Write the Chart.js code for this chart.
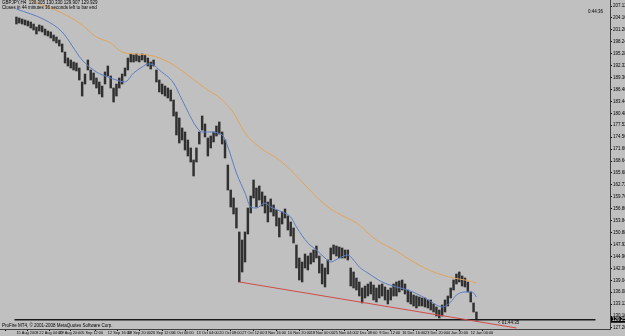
<!DOCTYPE html>
<html>
<head>
<meta charset="utf-8">
<script src="https://cdn.jsdelivr.net/npm/chart.js@4.4.1/dist/chart.umd.min.js"></script>
<style>
  html, body { margin: 0; padding: 0; background: #c0c0c0; }
  #wrap { width: 625px; height: 336px; }
</style>
</head>
<body>
<div id="wrap"><canvas id="chart" width="625" height="336"></canvas></div>
<script>
// GBPJPY H4, one slot per bar group
const barHigh = [
  204.39, 204.14, 203.89, 203.65, 203.40, 203.15, 202.65, 201.91, 202.41, 202.16,
  201.41, 200.92, 200.67, 199.92, 199.43, 198.68, 197.69, 195.70, 194.21, 193.72,
  193.22, 192.97, 191.73, 188.26, 190.24, 193.72, 191.24, 190.49, 189.25, 188.26,
  187.26, 190.74, 192.23, 189.75, 186.77, 187.76, 189.25, 190.24, 191.73, 194.21,
  195.21, 194.96, 195.21, 194.71, 195.21, 194.96, 194.21, 193.22, 193.72, 191.24,
  188.75, 187.76, 187.26, 186.77, 186.27, 183.79, 180.81, 179.32, 176.84, 175.85,
  173.86, 171.88, 168.90, 171.88, 175.85, 179.82, 177.83, 174.36, 174.85, 175.85,
  177.34, 178.33, 175.85, 173.86, 167.66, 161.45, 159.47, 156.98, 151.03, 149.04,
  151.03, 156.98, 159.96, 163.93, 161.95, 162.45, 160.96, 159.96, 158.47, 159.22,
  157.73, 156.49, 154.50, 155.99, 156.74, 155.00, 153.51, 152.02, 147.80, 144.57,
  143.58, 145.57, 145.07, 145.82, 146.56, 147.55, 145.07, 143.09, 142.09, 144.08,
  147.06, 147.80, 147.55, 147.30, 147.06, 146.56, 146.56, 142.09, 141.10, 139.61,
  138.62, 137.13, 137.62, 138.12, 138.62, 137.87, 137.13, 137.87, 138.12, 137.38,
  136.63, 137.13, 138.12, 138.62, 138.87, 139.11, 138.12, 136.63, 136.14, 135.39,
  135.14, 134.89, 134.65, 134.65, 134.15, 134.15, 133.16, 132.41, 131.67, 132.91,
  134.15, 135.14, 137.13, 139.11, 140.60, 141.10, 140.11, 139.61, 138.62, 136.14,
  133.41, 131.17
];
const barLow = [
  202.65, 202.90, 202.65, 202.41, 202.16, 201.66, 201.16, 200.17, 200.92, 200.67,
  199.92, 199.67, 199.18, 198.43, 197.94, 197.19, 195.70, 192.97, 192.23, 191.73,
  191.24, 190.99, 188.75, 184.78, 187.76, 191.24, 188.75, 187.76, 186.77, 185.28,
  184.53, 187.76, 189.75, 186.77, 183.29, 184.78, 186.77, 187.76, 189.75, 191.24,
  193.22, 193.22, 193.47, 193.22, 193.72, 193.22, 192.23, 191.48, 192.23, 188.26,
  185.78, 185.28, 184.78, 184.29, 183.54, 179.82, 175.10, 173.12, 173.86, 171.38,
  169.89, 168.40, 164.93, 168.40, 172.87, 176.34, 174.61, 169.89, 171.88, 173.37,
  174.85, 175.35, 172.87, 169.39, 161.45, 157.23, 155.49, 152.02, 138.62, 141.10,
  143.58, 150.53, 155.74, 159.47, 157.23, 158.97, 157.48, 155.74, 153.51, 155.99,
  155.00, 152.52, 149.79, 153.01, 154.50, 151.52, 150.03, 148.30, 142.09, 139.11,
  138.62, 142.09, 141.60, 143.09, 143.58, 144.57, 140.85, 138.12, 137.38, 140.60,
  144.08, 145.57, 145.07, 144.57, 144.57, 144.57, 144.08, 137.62, 137.13, 136.63,
  135.14, 133.41, 134.65, 135.14, 135.64, 134.15, 133.65, 134.65, 135.14, 134.15,
  133.16, 134.15, 135.14, 135.14, 136.14, 136.63, 135.64, 133.65, 133.16, 132.66,
  132.16, 132.66, 132.66, 132.41, 132.16, 131.67, 131.17, 130.18, 129.69, 130.18,
  131.17, 132.66, 134.65, 136.63, 138.12, 138.62, 137.62, 137.38, 136.14, 133.65,
  131.17, 129.19
];

// blue (fast) and orange (slow) moving averages, sampled at bar slots
const fastMaBars = [0, 10, 16, 23, 28, 32, 35, 38, 41, 44, 46, 48, 50, 55, 58, 63, 65, 67, 72, 74,
  77, 80, 82, 84, 87, 89, 93, 96, 98, 102, 105, 108, 110, 113, 116, 118, 120, 123, 128, 133,
  137, 143, 147, 149, 152, 154, 157, 159, 160, 161];
const fastMa = [206.38, 203.65, 200.67, 193.72, 190.74, 189.50, 188.75, 188.26, 190.49, 191.98,
  192.72, 192.48, 191.24, 188.01, 183.79, 177.09, 175.85, 175.85, 175.10, 172.12,
  165.67, 160.71, 157.23, 156.98, 158.22, 157.23, 155.99, 154.75, 152.27, 148.30,
  146.56, 144.57, 143.58, 144.57, 145.32, 144.08, 142.34, 140.85, 138.62, 137.38,
  136.63, 134.65, 132.91, 132.41, 133.65, 135.39, 136.14, 136.14, 135.89, 134.89];
const slowMaBars = [0, 9, 16, 23, 28, 33, 37, 42, 46, 50, 55, 59, 66, 72, 76, 80, 85, 92, 97, 103,
  109, 115, 119, 126, 133, 139, 146, 153, 157, 161];
const slowMa = [210.35, 207.37, 205.38, 202.41, 199.43, 197.94, 195.70, 195.21, 194.96, 194.21,
  192.48, 190.49, 186.77, 183.79, 180.56, 175.60, 172.12, 168.90, 165.67, 161.20,
  157.23, 154.75, 153.26, 149.04, 146.31, 143.58, 141.10, 139.61, 139.11, 138.37];

// red trend line drawn from the October low
const trendBars = [78, 175];
const trendPrices = [138.62, 127.20];

const lastPrice = 129.25;

const priceTicks = [127.20, 130.16, 133.12, 136.08, 139.04, 142.00, 144.96, 147.92, 150.88, 153.84,
  156.80, 159.76, 162.72, 165.68, 168.64, 171.60, 174.56, 177.52, 180.48, 183.44,
  186.40, 189.36, 192.32, 195.28, 198.24, 201.20, 204.16, 207.12];
const timeTickBars = [0, 8, 15, 23, 32, 39, 47, 55, 63, 71, 79, 87, 95, 103, 111, 119, 127, 135, 143, 151, 159];
const timeLabels = ['15 Aug 2008', '22 Aug 04:00', '29 Aug 20:00', '5 Sep 12:00', '12 Sep 16:00',
  '19 Sep 20:00', '26 Sep 12:00', '6 Oct 00:00', '13 Oct 04:00', '20 Oct 08:00', '27 Oct 12:00',
  '3 Nov 16:00', '10 Nov 20:00', '18 Nov 00:00', '25 Nov 04:00', '2 Dec 08:00', '9 Dec 12:00',
  '16 Dec 16:00', '23 Dec 20:00', '4 Jan 20:00', '12 Jan 00:00'];

const X_MIN = -0.67, X_MAX = 202.67;
const FAMILY = '"Liberation Sans", Arial, sans-serif';
const tinyFont = { family: FAMILY, size: 4.5 };

// --- background + terminal texts ---
const mtOverlay = {
  id: 'mtOverlay',
  beforeDraw(chart) {
    const ctx = chart.ctx;
    ctx.save();
    ctx.fillStyle = '#c0c0c0';
    ctx.fillRect(0, 0, chart.width, chart.height);
    ctx.restore();
  },
  afterDraw(chart) {
    const { ctx, chartArea, scales } = chart;
    const py = scales.y.getPixelForValue(lastPrice);
    ctx.save();
    ctx.font = '4.5px ' + FAMILY;
    ctx.textBaseline = 'middle';

    // current price box on the axis
    ctx.fillStyle = '#000';
    ctx.fillRect(scales.y.left + 1, py - 3, scales.y.width, 6);
    ctx.fillStyle = '#fff';
    ctx.fillText(lastPrice.toFixed(3), scales.y.left + 2, py);

    ctx.fillStyle = '#000';
    ctx.fillText('GBPJPY,H4  130.305 130.330 129.907 129.929', 2, 3);
    ctx.fillText('Closes in 44 minutes 36 seconds left to bar end', 2, 8);
    ctx.fillText('0:44:36', chartArea.right - 22, 12);
    ctx.fillText('< 01:44:35', scales.x.getPixelForValue(168.5), py + 3);
    ctx.fillText('ProFire MT4, \u00a9 2001-2008 MetaQuotes Software Corp.', 2, chartArea.bottom - 3);
    ctx.restore();
  }
};

window.onload = () => {
  const ctx = document.getElementById('chart').getContext('2d');
  new Chart(ctx, {
    data: {
      datasets: [
        {
          type: 'line',
          data: trendBars.map((b, i) => ({ x: b, y: trendPrices[i] })),
          borderColor: '#d24a4a', borderWidth: 1, pointRadius: 0
        },
        {
          type: 'line',
          data: [{ x: X_MIN, y: lastPrice }, { x: X_MAX, y: lastPrice }],
          borderColor: '#1a1a1a', borderWidth: 1.5, pointRadius: 0
        },
        {
          type: 'line',
          data: fastMaBars.map((b, i) => ({ x: b, y: fastMa[i] })),
          borderColor: '#5b7fc6', borderWidth: 1, pointRadius: 0,
          cubicInterpolationMode: 'monotone'
        },
        {
          type: 'line',
          data: slowMaBars.map((b, i) => ({ x: b, y: slowMa[i] })),
          borderColor: '#e3a45a', borderWidth: 1, pointRadius: 0,
          cubicInterpolationMode: 'monotone'
        },
        {
          type: 'bar',
          data: barHigh.map((h, i) => ({ x: i, y: [barLow[i], h] })),
          backgroundColor: '#303030', barThickness: 1.8
        }
      ]
    },
    options: {
      responsive: false,
      animation: false,
      layout: { padding: 0 },
      plugins: { legend: { display: false }, tooltip: { enabled: false } },
      scales: {
        x: {
          type: 'linear', min: X_MIN, max: X_MAX,
          afterBuildTicks: s => { s.ticks = timeTickBars.map(v => ({ value: v })); },
          afterFit: s => { s.height = 7; s.paddingLeft = 0; s.paddingRight = 0; },
          ticks: {
            callback: (v, i) => timeLabels[i],
            align: 'start', autoSkip: false, maxRotation: 0,
            font: { family: FAMILY, size: 3.9 }, color: '#000', padding: 0
          },
          grid: { drawOnChartArea: false, tickLength: 2, color: '#000' },
          border: { color: '#404040' }
        },
        y: {
          position: 'right', min: 126.95, max: 208.61,
          afterBuildTicks: s => { s.ticks = priceTicks.map(v => ({ value: v })); },
          afterFit: s => { s.width = 15; s.paddingTop = 0; s.paddingBottom = 0; },
          ticks: {
            callback: v => v.toFixed(3),
            autoSkip: false, font: tinyFont, color: '#000', padding: 1
          },
          grid: { drawOnChartArea: false, tickLength: 2, color: '#000' },
          border: { color: '#404040' }
        }
      }
    },
    plugins: [mtOverlay]
  });
};
</script>
</body>
</html>
